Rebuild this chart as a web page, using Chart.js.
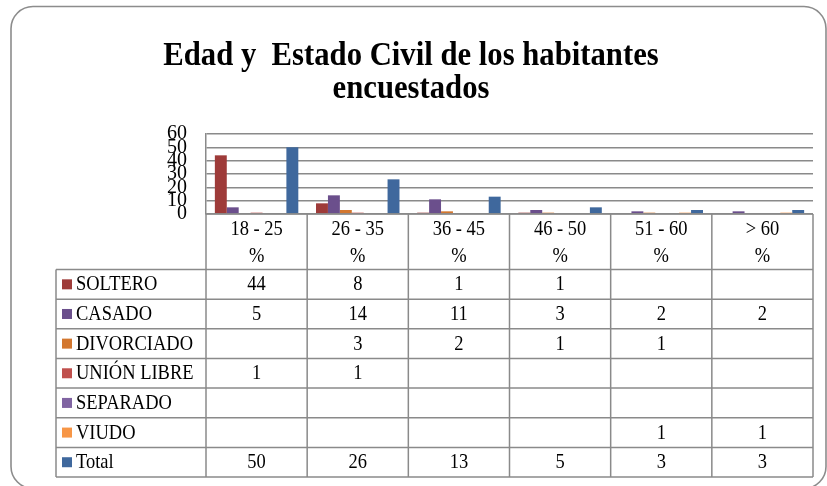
<!DOCTYPE html>
<html><head><meta charset="utf-8">
<script src="https://cdn.jsdelivr.net/npm/chart.js@4.4.1/dist/chart.umd.min.js"></script>
<style>html,body{margin:0;padding:0;background:#fff;}#wrap{width:827px;height:486px;position:relative;}</style>
</head><body><div id="wrap"><canvas id="c" width="827" height="486"></canvas></div>
<script>
const titleLines = ['Edad y  Estado Civil de los habitantes', 'encuestados'];
const categories = ['18 - 25', '26 - 35', '36 - 45', '46 - 50', '51 - 60', '> 60'];
const unitLabel = '%';
const seriesNames = ['SOLTERO', 'CASADO', 'DIVORCIADO', 'UNIÓN LIBRE', 'SEPARADO', 'VIUDO', 'Total'];
const soltero    = [44, 8, 1, 1, null, null];
const casado     = [5, 14, 11, 3, 2, 2];
const divorciado = [null, 3, 2, 1, 1, null];
const unionLibre = [1, 1, null, null, null, null];
const separado   = [null, null, null, null, null, null];
const viudo      = [null, null, null, null, 1, 1];
const total      = [50, 26, 13, 5, 3, 3];
const yTicks = [0, 10, 20, 30, 40, 50, 60];
const seriesColors = ['#9E3B39', '#6B4F8C', '#D3772F', '#C0504D', '#8064A2', '#F79646', '#3F689D'];

const seriesValues = [soltero, casado, divorciado, unionLibre, separado, viudo, total];
const LINE = '#8a8a8a';
const SERIF = '"Liberation Serif", "Times New Roman", serif';

function txt(ctx, s, x, y, font, align, sx) {
  ctx.save();
  ctx.font = font;
  ctx.textAlign = align;
  ctx.textBaseline = 'middle';
  ctx.fillStyle = '#000';
  ctx.translate(x, y);
  ctx.scale(sx, 1);
  ctx.fillText(s, 0, 0);
  ctx.restore();
}

const tablePlugin = {
  id: 'tablePlugin',
  afterDraw(chart) {
    const ctx = chart.ctx;
    const xs = chart.scales.x;
    const area = chart.chartArea;
    const n = categories.length;
    const colW = (area.right - area.left) / n;
    const left = area.left, right = area.right, top = area.bottom;
    const legendLeft = 56;
    const headerBottom = 269.5;
    const rowH = 29.65;
    const nRows = seriesNames.length;
    const tableBottom = headerBottom + rowH * nRows;

    ctx.save();
    ctx.strokeStyle = LINE;
    ctx.lineWidth = 1.5;
    ctx.beginPath();
    ctx.moveTo(left, top); ctx.lineTo(right, top);
    for (let i = 0; i <= n; i++) {
      const x = left + i * colW;
      ctx.moveTo(x, top); ctx.lineTo(x, tableBottom);
    }
    ctx.moveTo(legendLeft, headerBottom); ctx.lineTo(legendLeft, tableBottom);
    for (let r = 0; r <= nRows; r++) {
      const y = headerBottom + r * rowH;
      ctx.moveTo(legendLeft, y); ctx.lineTo(right, y);
    }
    ctx.stroke();
    ctx.restore();

    const f = '21px ' + SERIF;
    const sx = 0.88;
    for (let i = 0; i < n; i++) {
      const cx = xs.getPixelForValue(i);
      txt(ctx, categories[i], cx, 229.5, f, 'center', sx);
      txt(ctx, unitLabel, cx, 256.5, f, 'center', sx);
    }
    for (let r = 0; r < nRows; r++) {
      const cy = headerBottom + r * rowH + rowH / 2;
      ctx.fillStyle = seriesColors[r];
      ctx.fillRect(62, cy - 5, 10, 10);
      txt(ctx, seriesNames[r], 76, cy + 0.5, f, 'left', sx);
      const vals = seriesValues[r];
      for (let i = 0; i < n; i++) {
        if (vals[i] !== null && vals[i] !== undefined) {
          txt(ctx, String(vals[i]), xs.getPixelForValue(i), cy + 0.5, f, 'center', sx);
        }
      }
    }

    const tf = 'bold 33px ' + SERIF;
    txt(ctx, titleLines[0], 411, 56, tf, 'center', 0.93);
    txt(ctx, titleLines[1], 411, 89, tf, 'center', 0.93);

    ctx.save();
    ctx.strokeStyle = '#8c8c8c';
    ctx.lineWidth = 1.6;
    ctx.beginPath();
    ctx.roundRect(11, 6.5, 815, 482, 22);
    ctx.stroke();
    ctx.restore();
  }
};

new Chart(document.getElementById('c'), {
  type: 'bar',
  data: {
    labels: categories,
    datasets: seriesNames.map((name, i) => ({
      label: name,
      data: seriesValues[i],
      backgroundColor: seriesColors[i],
      borderWidth: 0,
      categoryPercentage: 0.825,
      barPercentage: 1.0
    }))
  },
  options: {
    responsive: false,
    animation: false,
    devicePixelRatio: 1,
    layout: { padding: { left: 0, right: 14, top: 134, bottom: 272 } },
    plugins: { legend: { display: false }, tooltip: { enabled: false }, title: { display: false } },
    scales: {
      x: { type: 'category', display: false },
      y: {
        min: 0, max: 60,
        afterBuildTicks: s => { s.ticks = yTicks.map(v => ({ value: v })); },
        afterFit: s => { s.width = 206; },
        grid: { color: LINE, lineWidth: 1.5, drawTicks: false },
        border: { display: true, color: LINE, width: 1.5 },
        ticks: { font: { family: SERIF, size: 20 }, color: '#000', padding: 19, autoSkip: false }
      }
    }
  },
  plugins: [tablePlugin]
});
</script></body></html>
